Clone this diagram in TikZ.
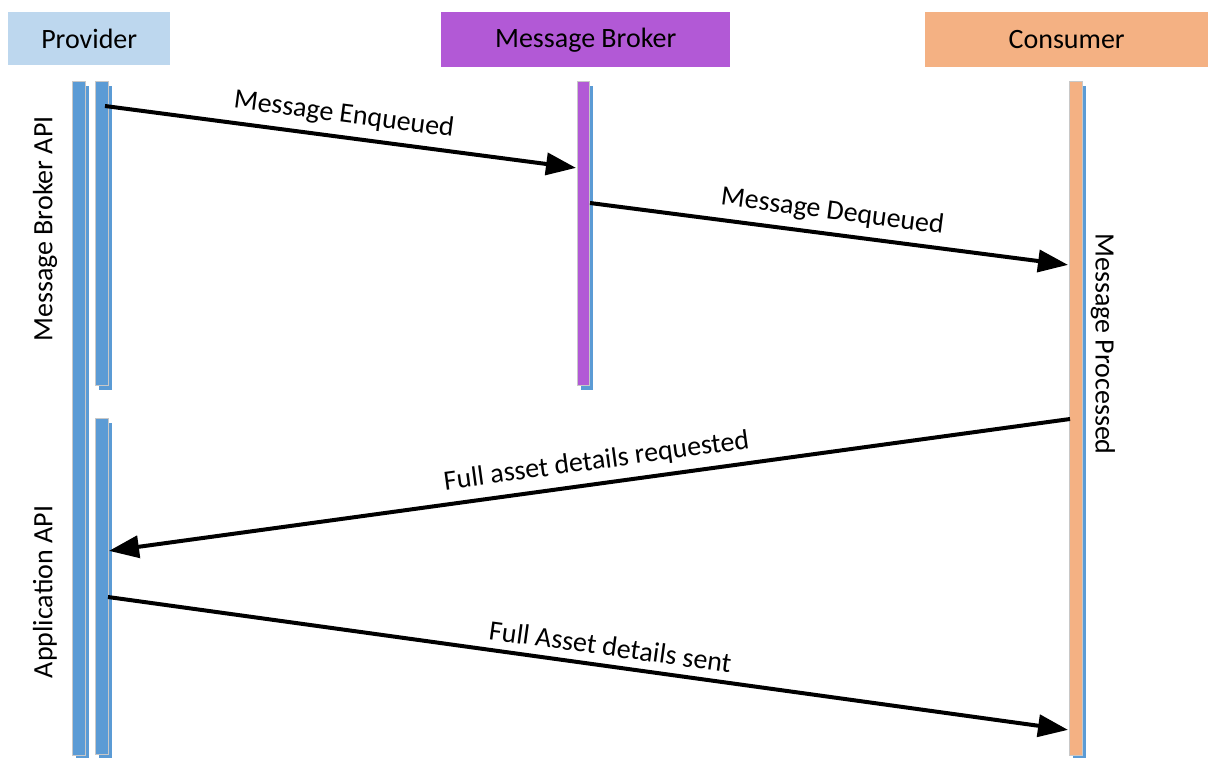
\documentclass[tikz,border=0pt]{standalone}
\usepackage{fontspec}
\setmainfont{Carlito}
\usetikzlibrary{arrows.meta,shadows}
\definecolor{provfill}{RGB}{189,215,238}
\definecolor{brokfill}{RGB}{178,89,214}
\definecolor{consfill}{RGB}{244,177,131}
\definecolor{barblue}{RGB}{91,155,213}
\definecolor{bargrey}{RGB}{200,200,200}
\tikzset{
  header/.style={rectangle, inner sep=0pt, anchor=north west, font=\fontsize{28}{32}\selectfont},
  bar/.style={rectangle, draw=bargrey, line width=1pt, inner sep=0pt, anchor=north west,
    minimum width=13pt, drop shadow={shadow xshift=3pt, shadow yshift=-4pt, fill=barblue, opacity=1}},
  msg/.style={line width=4pt, -{Triangle[length=30pt,width=22pt]}, shorten >=1pt},
  lbl/.style={font=\fontsize{28}{32}\selectfont, sloped, above=7pt, inner sep=1pt},
  vlbl/.style={font=\fontsize{28}{32}\selectfont, inner sep=0pt}
}
\begin{document}
\begin{tikzpicture}[x=1pt,y=-1pt]
\useasboundingbox (0,0) rectangle (1208,758);
% headers
\node[header, fill=provfill, minimum width=162pt, minimum height=53pt] (hprov) at (8,12) {Provider};
\node[header, fill=brokfill, minimum width=289pt, minimum height=55pt] (hbrok) at (441,12) {Message Broker};
\node[header, fill=consfill, minimum width=283pt, minimum height=55pt] (hcons) at (925,12) {Consumer};
% bars
\node[bar, fill=barblue, minimum height=674pt] (plong) at (72,81) {};
\node[bar, fill=barblue, minimum height=304pt] (papi1) at (95,81) {};
\node[bar, fill=barblue, minimum height=336pt] (papi2) at (95,418) {};
\node[bar, fill=brokfill, minimum height=304pt, minimum width=12pt] (bbar) at (577,81) {};
\node[bar, fill=consfill, minimum height=674pt] (cbar) at (1069,81) {};
% vertical labels
\node[vlbl, rotate=90] (lmb) at (45,229) {Message Broker API};
\node[vlbl, rotate=90] (lapp) at (45,592) {Application API};
\node[vlbl, rotate=-90] (lproc) at (1103,344) {Message Processed};
% arrow endpoints
\coordinate (a1s) at (105,106);
\coordinate (a1e) at (577,168);
\coordinate (a2s) at (590,203);
\coordinate (a2e) at (1069,265);
\coordinate (a3s) at (1070,419);
\coordinate (a3e) at (108,551);
\coordinate (a4s) at (108,597);
\coordinate (a4e) at (1069,730);
% messages
\draw[msg] (a1s) -- node[lbl, pos=0.5] (t1) {Message Enqueued} (a1e);
\draw[msg] (a2s) -- node[lbl, pos=0.5] (t2) {Message Dequeued} (a2e);
\draw[msg] (a3s) -- node[lbl, pos=0.489] (t3) {Full asset details requested} (a3e);
\draw[msg] (a4s) -- node[lbl, pos=0.52] (t4) {Full Asset details sent} (a4e);
\end{tikzpicture}
\end{document}
